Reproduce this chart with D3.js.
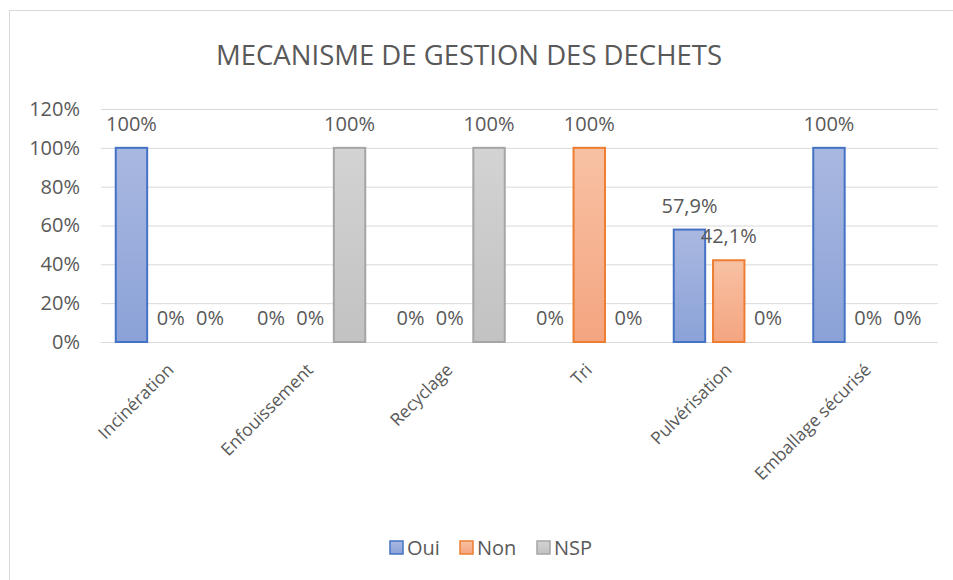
<!DOCTYPE html>
<html>
<head>
<meta charset="utf-8">
<script src="https://cdn.jsdelivr.net/npm/d3@7"></script>
<style>
  body { margin: 0; background: #fff; }
  text { font-family: "Open Sans", "Noto Sans", sans-serif; fill: #595959; }
</style>
</head>
<body>
<div id="chart"></div>
<script>
var categories = ["Incinération", "Enfouissement", "Recyclage", "Tri", "Pulvérisation", "Emballage sécurisé"];
var seriesNames = ["Oui", "Non", "NSP"];
var oui = [1, 0, 0, 0, 0.579, 1];
var non = [0, 0, 0, 1, 0.421, 0];
var nsp = [0, 1, 1, 0, 0, 0];
var labelText = [
  ["100%", "0%", "0%"],
  ["0%", "0%", "100%"],
  ["0%", "0%", "100%"],
  ["0%", "100%", "0%"],
  ["57,9%", "42,1%", "0%"],
  ["100%", "0%", "0%"]
];
var yTicks = [0, 0.2, 0.4, 0.6, 0.8, 1, 1.2];

var colors = {
  Oui: { top: "#a9b8e0", bottom: "#8ba2d8", stroke: "#4472c4" },
  Non: { top: "#f8c1a4", bottom: "#f4a580", stroke: "#ed7d31" },
  NSP: { top: "#d3d3d3", bottom: "#c2c2c2", stroke: "#a5a5a5" }
};

var width = 953, height = 580;
var margin = { top: 109, right: 15, bottom: 238, left: 101 };

var svg = d3.select("#chart").append("svg")
  .attr("width", width)
  .attr("height", height);

// chart frame
svg.append("rect")
  .attr("x", 9.5).attr("y", 10.5)
  .attr("width", 960).attr("height", 600)
  .style("fill", "none")
  .style("stroke", "#d9d9d9");

svg.append("text")
  .attr("x", 469).attr("y", 65)
  .attr("text-anchor", "middle")
  .attr("font-size", "27.5px")
  .text("MECANISME DE GESTION DES DECHETS");

var x0 = d3.scaleBand().domain(categories).range([margin.left, width - margin.right]);
var x1 = d3.scaleBand().domain(seriesNames).range([-55, 55]).paddingInner(0.2);
var y = d3.scaleLinear().domain([0, 1.2]).range([height - margin.bottom, margin.top]);

// gradients
var defs = svg.append("defs");
seriesNames.forEach(function (s) {
  var g = defs.append("linearGradient").attr("id", "grad" + s)
    .attr("x1", 0).attr("y1", 0).attr("x2", 0).attr("y2", 1);
  g.append("stop").attr("offset", "0%").attr("stop-color", colors[s].top);
  g.append("stop").attr("offset", "100%").attr("stop-color", colors[s].bottom);
});

// gridlines
var yAxis = svg.append("g")
  .attr("transform", "translate(" + margin.left + ",0)")
  .call(d3.axisLeft(y).tickValues(yTicks)
    .tickSize(-(width - margin.left - margin.right))
    .tickFormat(function (d) { return Math.round(d * 100) + "%"; }));
yAxis.select(".domain").remove();
yAxis.selectAll("line").style("stroke", "#d9d9d9");
yAxis.selectAll("text")
  .attr("x", -21)
  .attr("font-size", "20px")
  .style("fill", "#595959");

var rows = categories.map(function (c, i) {
  return { cat: c, values: [oui[i], non[i], nsp[i]], labels: labelText[i] };
});

var groups = svg.selectAll("g.cat").data(rows).enter().append("g")
  .attr("class", "cat")
  .attr("transform", function (d) { return "translate(" + (x0(d.cat) + x0.bandwidth() / 2) + ",0)"; });

groups.selectAll("rect").data(function (d) {
  return d.values.map(function (v, j) { return { s: seriesNames[j], v: v }; });
}).enter().append("rect")
  .filter(function (d) { return d.v > 0; })
  .attr("x", function (d) { return x1(d.s); })
  .attr("y", function (d) { return y(d.v); })
  .attr("width", x1.bandwidth())
  .attr("height", function (d) { return y(0) - y(d.v); })
  .style("fill", function (d) { return "url(#grad" + d.s + ")"; })
  .style("stroke", function (d) { return colors[d.s].stroke; })
  .style("stroke-width", 2);

groups.selectAll("text.lbl").data(function (d) {
  return d.values.map(function (v, j) { return { s: seriesNames[j], v: v, t: d.labels[j] }; });
}).enter().append("text")
  .attr("class", "lbl")
  .attr("x", function (d) { return x1(d.s) + x1.bandwidth() / 2; })
  .attr("y", function (d) { return y(d.v) - 17; })
  .attr("text-anchor", "middle")
  .attr("font-size", "20px")
  .text(function (d) { return d.t; });

// x labels
svg.selectAll("text.xlab").data(categories).enter().append("text")
  .attr("class", "xlab")
  .attr("text-anchor", "end")
  .attr("font-size", "17.5px")
  .attr("transform", function (d) {
    return "translate(" + (x0(d) + x0.bandwidth() / 2 + 4) + "," + (y(0) + 29) + ") rotate(-45)";
  })
  .text(function (d) { return d; });

// legend
var legendX = [390, 460, 537];
var legend = svg.selectAll("g.leg").data(seriesNames).enter().append("g")
  .attr("class", "leg")
  .attr("transform", function (d, i) { return "translate(" + legendX[i] + ",541)"; });
legend.append("rect")
  .attr("width", 13).attr("height", 13)
  .style("fill", function (d) { return "url(#grad" + d + ")"; })
  .style("stroke", function (d) { return colors[d].stroke; })
  .style("stroke-width", 1.5);
legend.append("text")
  .attr("x", 17).attr("y", 14)
  .attr("font-size", "20px")
  .text(function (d) { return d; });
</script>
</body>
</html>
